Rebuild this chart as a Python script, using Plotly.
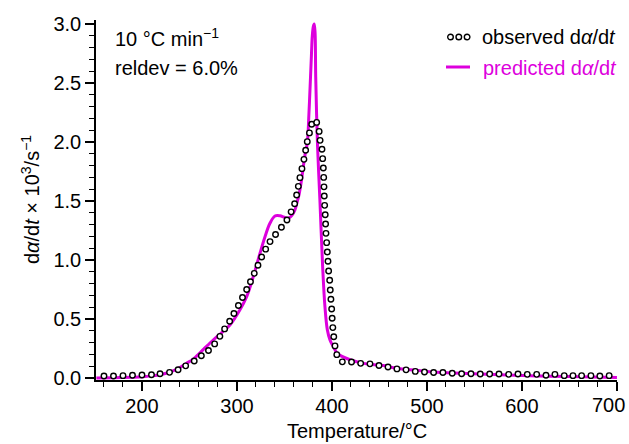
import plotly.graph_objects as go

# ---------------- data ----------------
obs_T = [160, 170, 180, 190, 200, 210, 219, 229, 238, 246, 255, 262.5, 270, 276.5,
         282, 287, 292.3, 296.8, 301.5, 305.8, 310.2, 314.2, 318.2, 322.1, 326, 330.2,
         334.8, 340.6, 346.8, 352.6, 357, 360.7, 362.8, 364.6, 366.3, 368.4, 370.5,
         372.3, 374, 376.3, 378.7, 383.9, 386.5, 387.5, 389.5, 390.2, 390.9, 391.3,
         391.6, 391.9, 392.3, 392.9, 393.3, 393.7, 394.4, 395.1, 395.8, 396.5, 397.6,
         398.2, 398.9, 399.7, 400.2, 400.9, 401.9, 403.2, 405.1, 410.9, 420.6, 430.2,
         440, 449.5, 459, 468.4, 478, 487.7, 497.4, 507, 516.8, 526.6, 536.5, 546.3,
         556.1, 566, 575.8, 586, 595.8, 605.6, 615.5, 625.3, 634.7, 644.5, 653.7,
         662.8, 672.6, 682, 691.8]
obs_y = [0.017, 0.017, 0.020, 0.023, 0.025, 0.028, 0.036, 0.048, 0.070, 0.103, 0.144,
         0.189, 0.233, 0.289, 0.353, 0.416, 0.481, 0.546, 0.615, 0.682, 0.750, 0.816,
         0.887, 0.955, 1.025, 1.092, 1.156, 1.216, 1.278, 1.339, 1.408, 1.477, 1.551,
         1.624, 1.698, 1.774, 1.853, 1.930, 2.003, 2.077, 2.150, 2.166, 2.090, 2.014,
         1.938, 1.859, 1.780, 1.700, 1.620, 1.542, 1.463, 1.384, 1.305, 1.226, 1.147,
         1.068, 0.989, 0.907, 0.828, 0.746, 0.667, 0.585, 0.506, 0.427, 0.350, 0.272,
         0.198, 0.137, 0.135, 0.124, 0.120, 0.106, 0.093, 0.077, 0.069, 0.056, 0.051,
         0.046, 0.046, 0.040, 0.036, 0.036, 0.034, 0.034, 0.034, 0.031, 0.034, 0.031,
         0.031, 0.023, 0.031, 0.020, 0.020, 0.020, 0.020, 0.017, 0.020]

pred_T = [152, 170, 190, 201, 210, 219, 228, 236.5, 247, 254, 258, 265, 275, 284,
          292.6, 303, 310.2, 317.2, 324.2, 329.5, 334.7, 340, 345.3, 349, 352.3,
          355.5, 358, 361, 363, 365.6, 367.8, 369.8, 372, 374, 375.8, 377.2, 378.4,
          379.3, 380.4, 381.3, 382.2, 382.9, 384.8, 387.3, 390.2, 392.6, 395.1, 398,
          401.4, 405, 410, 419, 433, 454, 468, 489, 503, 521, 556, 608, 650, 700]
pred_y = [0.000, 0.003, 0.007, 0.011, 0.018, 0.028, 0.047, 0.074, 0.125, 0.160, 0.190,
          0.245, 0.322, 0.385, 0.449, 0.576, 0.689, 0.860, 1.056, 1.197, 1.311, 1.373,
          1.375, 1.365, 1.355, 1.360, 1.380, 1.424, 1.480, 1.565, 1.670, 1.790, 1.910,
          1.990, 2.250, 2.510, 2.740, 2.900, 2.980, 3.000, 2.930, 2.550, 1.970, 1.510,
          0.940, 0.604, 0.410, 0.320, 0.266, 0.215, 0.185, 0.155, 0.124, 0.105, 0.082,
          0.065, 0.053, 0.045, 0.034, 0.020, 0.012, 0.004]

x_ticks = [200, 300, 400, 500, 600, 700]
x_ticklabels = ["200", "300", "400", "500", "600", "700"]
y_ticks = [0.0, 0.5, 1.0, 1.5, 2.0, 2.5, 3.0]

# ---------------- styling ----------------
FONT = "Liberation Sans, Arial, sans-serif"
FS = 20
MAG = "#DD00DD"
W, H = 629, 444
L, R, T, B = 96, 12, 20, 64
pw, ph = W - L - R, H - T - B


def px(xp):
    return (xp - L) / pw


def py(yp):
    return (H - B - yp) / ph


fig = go.Figure()
fig.add_trace(go.Scatter(x=pred_T, y=pred_y, mode="lines",
                         line=dict(color=MAG, width=3), showlegend=False,
                         line_shape="spline"))
fig.add_trace(go.Scatter(x=obs_T, y=obs_y, mode="markers",
                         marker=dict(symbol="circle", size=5.5, color="white",
                                     line=dict(color="black", width=1.4)),
                         showlegend=False))

axis_common = dict(showline=True, linecolor="black", linewidth=1.5, mirror=False,
                   ticks="outside", ticklen=9, tickwidth=1.5, tickcolor="black",
                   showgrid=False, zeroline=False, ticklabeloverflow="allow",
                   automargin=False,
                   tickfont=dict(family=FONT, size=FS, color="black"))

# the last x label sits shifted left so it stays inside the picture (as in the
# reference); it is drawn as an annotation below, the axis keeps its tick
fig.update_xaxes(range=[151.6, 700.05], tickmode="array", tickvals=x_ticks,
                 ticktext=x_ticklabels[:-1] + [""], ticklabelstandoff=-2,
                 minor=dict(ticks="outside", ticklen=5, tickwidth=1.2,
                            tickcolor="black", dtick=20, tick0=0, showgrid=False),
                 **axis_common)
fig.update_yaxes(range=[-0.017, 3.034], tickmode="array", tickvals=y_ticks,
                 ticktext=[f"{v:.1f}" for v in y_ticks],
                 minor=dict(ticks="outside", ticklen=5, tickwidth=1.2,
                            tickcolor="black", dtick=0.1, tick0=0, showgrid=False),
                 **axis_common)

ann = []
ann.append(dict(text="10 °C min<sup>−1</sup>", x=px(113), y=py(37), xanchor="left",
                yanchor="middle"))
ann.append(dict(text="reldev = 6.0%", x=px(113), y=py(68), xanchor="left",
                yanchor="middle"))
ann.append(dict(text="observed d<i>α</i>/d<i>t</i>", x=px(480), y=py(37),
                xanchor="left", yanchor="middle"))
ann.append(dict(text="predicted d<i>α</i>/d<i>t</i>", x=px(481), y=py(68),
                xanchor="left", yanchor="middle", font=dict(family=FONT, size=FS, color=MAG)))
ann.append(dict(text="Temperature/°C", x=px(357), y=py(431), xanchor="center",
                yanchor="middle"))
ann.append(dict(text="d<i>α</i>/d<i>t</i> × 10<sup>3</sup>/s<sup>−1</sup>", x=px(30),
                y=py(200), xanchor="center", yanchor="middle", textangle=-90))
ann.append(dict(text=x_ticklabels[-1], x=px(627), y=py(405), xanchor="right",
                yanchor="middle"))
for a in ann:
    a.setdefault("font", dict(family=FONT, size=FS, color="black"))
    a.update(xref="paper", yref="paper", showarrow=False)

shapes = []
for cx in [450.5, 458.8, 467.1]:
    shapes.append(dict(type="circle", xref="paper", yref="paper",
                       xsizemode="pixel", ysizemode="pixel",
                       xanchor=px(cx), yanchor=py(37), x0=-2.8, x1=2.8, y0=-2.8, y1=2.8,
                       line=dict(color="black", width=1.4), fillcolor="white"))
shapes.append(dict(type="line", xref="paper", yref="paper", x0=px(446), x1=px(470),
                   y0=py(67), y1=py(67), line=dict(color=MAG, width=3)))

fig.update_layout(width=W, height=H, autosize=False,
                  margin=dict(l=L, r=R, t=T, b=B, pad=0, autoexpand=False),
                  paper_bgcolor="white", plot_bgcolor="white",
                  font=dict(family=FONT, size=FS, color="black"),
                  annotations=ann, shapes=shapes, showlegend=False)

fig.write_html("out.html", config={"displayModeBar": False},
               post_script="document.body.style.margin='0';")
